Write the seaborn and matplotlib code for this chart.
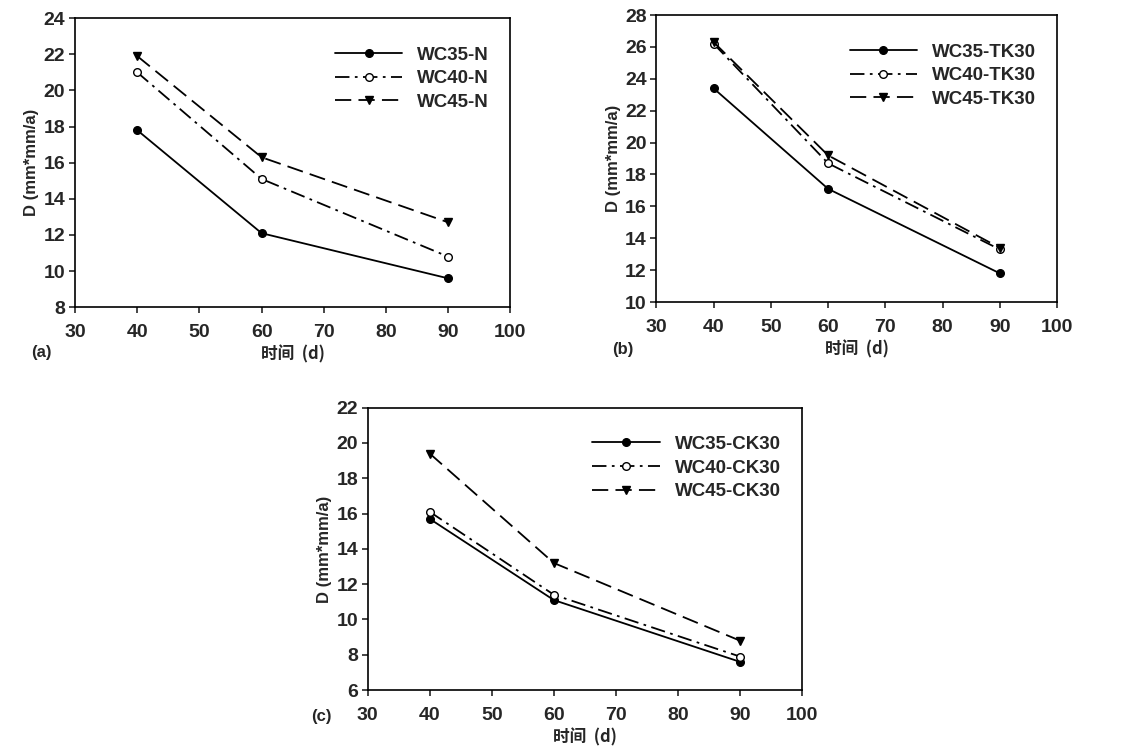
import seaborn as sns
import matplotlib.pyplot as plt
import pandas as pd

days = [40, 60, 90]

# panel (a)
a_names = ['WC35-N', 'WC40-N', 'WC45-N']
a_wc35 = [17.8, 12.1, 9.6]
a_wc40 = [21.0, 15.1, 10.8]
a_wc45 = [21.9, 16.3, 12.7]

# panel (b)
b_names = ['WC35-TK30', 'WC40-TK30', 'WC45-TK30']
b_wc35 = [23.4, 17.1, 11.8]
b_wc40 = [26.2, 18.7, 13.3]
b_wc45 = [26.3, 19.2, 13.4]

# panel (c)
c_names = ['WC35-CK30', 'WC40-CK30', 'WC45-CK30']
c_wc35 = [15.7, 11.1, 7.6]
c_wc40 = [16.1, 11.4, 7.9]
c_wc45 = [19.4, 13.2, 8.8]

sns.set_theme(style='ticks')
plt.rcParams['font.family'] = ['Liberation Sans', 'Noto Sans CJK SC', 'DejaVu Sans']
plt.rcParams['font.weight'] = 'bold'

styles = [
    dict(marker='o', linestyle='-', mfc='black'),
    dict(marker='o', linestyle=(0, (8, 3, 1.5, 3)), mfc='white'),
    dict(marker='v', linestyle=(0, (9, 4)), mfc='black'),
]


def panel(ax, names, series, ylim, label, label_xy):
    df = pd.DataFrame({'day': days * 3,
                       'D': series[0] + series[1] + series[2],
                       'name': [n for n in names for _ in days]})
    for name, st in zip(names, styles):
        sub = df[df['name'] == name]
        sns.lineplot(data=sub, x='day', y='D', ax=ax, color='black', lw=1.3,
                     marker=st['marker'], linestyle=st['linestyle'],
                     mfc=st['mfc'], mec='black', mew=1, ms=5.5, label=name)
    ax.set_xlim(30, 100)
    ax.set_xticks(range(30, 101, 10))
    ax.set_ylim(*ylim)
    ax.set_yticks(range(ylim[0], ylim[1] + 1, 2))
    ax.tick_params(direction='out', length=4, width=1.2, labelsize=14,
                   top=False, right=False, pad=3)
    ax.tick_params(axis='x', pad=8)
    for lbl in ax.get_xticklabels() + ax.get_yticklabels():
        lbl.set_fontweight('bold')
    for sp in ax.spines.values():
        sp.set_linewidth(1.2)
        sp.set_color('black')
    ax.set_xlabel('时间  (d)', fontsize=12, fontweight='bold',
                  family=['Noto Sans CJK SC', 'Liberation Sans'], labelpad=3)
    ax.set_ylabel('D (mm*mm/a)', fontsize=12, fontweight='bold', labelpad=3)
    ax.legend(loc='upper right', frameon=False, fontsize=13.5, handlelength=3.6,
              bbox_to_anchor=(0.99, 0.96), labelspacing=0.35, handletextpad=0.8)
    ax.text(label_xy[0], label_xy[1], label, transform=ax.transAxes, fontsize=12,
            fontweight='bold', va='center', ha='left')


fig = plt.figure(figsize=(11.28, 7.55), dpi=100)
ax_a = fig.add_axes([0.0665, 0.593, 0.386, 0.383])
ax_b = fig.add_axes([0.582, 0.600, 0.355, 0.380])
ax_c = fig.add_axes([0.326, 0.086, 0.385, 0.374])

panel(ax_a, a_names, [a_wc35, a_wc40, a_wc45], (8, 24), '(a)', (-0.10, -0.155))
panel(ax_b, b_names, [b_wc35, b_wc40, b_wc45], (10, 28), '(b)', (-0.11, -0.165))
panel(ax_c, c_names, [c_wc35, c_wc40, c_wc45], (6, 22), '(c)', (-0.13, -0.092))

fig.savefig('out.png', dpi=100)
